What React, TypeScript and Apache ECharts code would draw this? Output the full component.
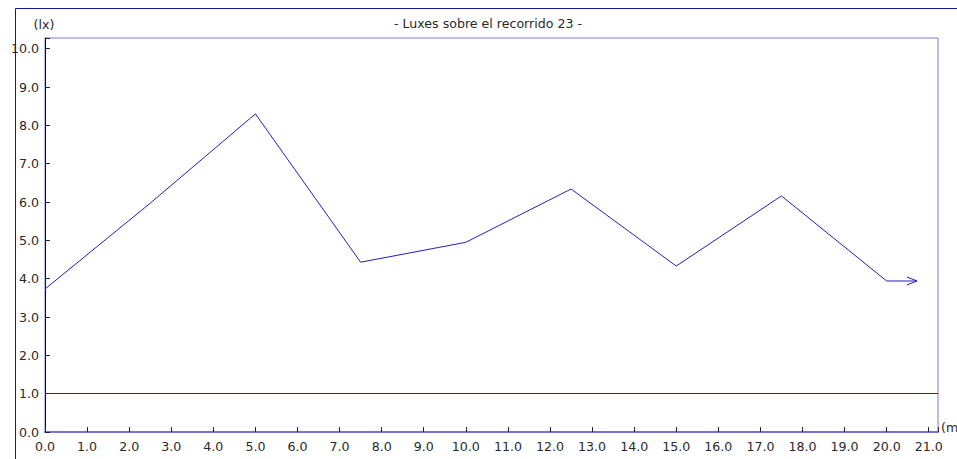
import React, { useEffect, useRef } from 'react';
import * as echarts from 'echarts';

const xValues = [0, 2.5, 5, 7.5, 10, 12.5, 15, 17.5, 20, 20.72];
const luxValues = [3.73, 5.97, 8.3, 4.43, 4.95, 6.34, 4.33, 6.16, 3.94, 3.94];
const refLevel = 1.0;
const titleText = '- Luxes sobre el recorrido 23 -';
const yUnit = '(lx)';
const xUnit = '(m)';
const xMax = 21.22;
const yMax = 10.28;

const FONT = '"DejaVu Sans", Verdana, sans-serif';
const FS = 12.6;
const LINE = '#2020c0';

export default function App() {
  const ref = useRef<HTMLDivElement>(null);
  useEffect(() => {
    if (!ref.current) return;
    const chart = echarts.init(ref.current, null, { renderer: 'svg' });
    const pts = xValues.map((x, i) => [x, luxValues[i]]);
    const last = pts[pts.length - 1];
    const fmt = (v: number) => (Math.abs(v - Math.round(v)) > 1e-6 ? '' : v.toFixed(1));
    chart.setOption({
      animation: false,
      backgroundColor: '#ffffff',
      textStyle: { fontFamily: FONT },
      grid: {
        left: 45,
        top: 38,
        right: 19,
        bottom: 27,
        show: true,
        borderColor: '#7b7bdc',
        borderWidth: 1,
        backgroundColor: 'transparent',
      },
      xAxis: {
        type: 'value',
        min: 0,
        max: xMax,
        interval: 1,
        splitLine: { show: false },
        axisLine: { show: true, lineStyle: { color: '#7474d4', width: 2 } },
        axisTick: { show: true, inside: true, length: 5, lineStyle: { color: '#202040' } },
        axisLabel: { formatter: fmt, color: '#2a2a2a', fontSize: FS, fontFamily: FONT, margin: 8 },
      },
      yAxis: {
        type: 'value',
        min: 0,
        max: yMax,
        interval: 1,
        splitLine: { show: false },
        axisLine: { show: true, lineStyle: { color: '#000080', width: 1 } },
        axisTick: { show: true, inside: true, length: 5, lineStyle: { color: '#202040' } },
        axisLabel: { formatter: fmt, color: '#2a2a2a', fontSize: FS, fontFamily: FONT, margin: 6 },
      },
      graphic: [
        {
          type: 'rect',
          shape: { x: 15.5, y: 8.5, width: 2000, height: 2000 },
          style: { fill: 'none', stroke: '#1414a0', lineWidth: 1 },
          silent: true,
        },
        {
          type: 'text',
          x: 488,
          y: 23,
          style: { text: titleText, font: `${FS}px ${FONT}`, fill: '#2a2a2a', align: 'center', verticalAlign: 'middle' },
        },
        {
          type: 'text',
          x: 44,
          y: 24,
          style: { text: yUnit, font: `${FS}px ${FONT}`, fill: '#2a2a2a', align: 'center', verticalAlign: 'middle' },
        },
        {
          type: 'text',
          x: 941,
          y: 427,
          style: { text: xUnit, font: `${FS}px ${FONT}`, fill: '#2a2a2a', align: 'left', verticalAlign: 'middle' },
        },
      ],
      series: [
        {
          type: 'line',
          data: pts,
          symbol: 'none',
          lineStyle: { color: LINE, width: 1 },
          markLine: {
            silent: true,
            symbol: ['none', 'none'],
            label: { show: false },
            lineStyle: { color: '#a00000', type: 'solid', width: 1 },
            data: [{ yAxis: refLevel }],
          },
          z: 3,
        },
        {
          type: 'custom',
          data: [last],
          encode: { x: 0, y: 1 },
          renderItem: (params: any, api: any) => {
            const p = api.coord([api.value(0), api.value(1)]);
            return {
              type: 'polyline',
              shape: { points: [[p[0] - 10, p[1] - 4], [p[0], p[1]], [p[0] - 10, p[1] + 4]] },
              style: { stroke: LINE, fill: 'none', lineWidth: 1 },
            };
          },
          z: 3,
        },
      ],
    });
    return () => chart.dispose();
  }, []);
  return <div ref={ref} style={{ position: 'fixed', left: 0, top: 0, width: 957, height: 459 }} />;
}
